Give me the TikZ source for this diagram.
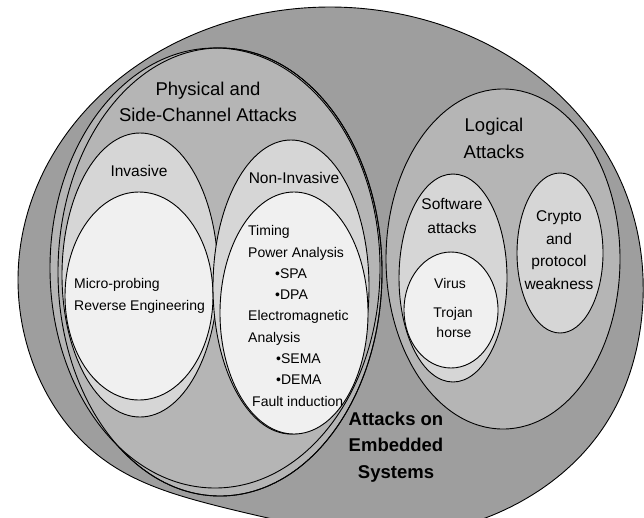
\documentclass[tikz,border=0pt]{standalone}
\usepackage{fontspec}
\setmainfont{Liberation Sans}
\begin{document}
\begin{tikzpicture}[x=1pt,y=-1pt,
  ring/.style={draw=black,line width=0.9pt},
  head/.style={inner sep=0pt,anchor=base,font=\fontsize{18.5}{26}\selectfont},
  bold/.style={inner sep=0pt,anchor=base,font=\fontsize{18.5}{26}\bfseries\selectfont},
  mid/.style={inner sep=0pt,anchor=base,font=\fontsize{15.5}{22}\selectfont},
  item/.style={inner sep=0pt,anchor=base west,font=\fontsize{14}{20}\selectfont}]
\useasboundingbox (0,0) rectangle (644,517);
\clip (0,0) rectangle (644,517);

\filldraw[ring,fill=black!38] plot[domain=0:360,samples=145,smooth]
  ({330+312*cos(\x)+12*max(0,cos(\x-318))^8},{280-273*sin(\x)-30*max(0,cos(\x-255))^8}) -- cycle;
\filldraw[ring,fill=black!29] (220,272) ellipse [x radius=162,y radius=224];
\filldraw[ring,fill=black!29] (215,268) ellipse [x radius=165,y radius=220];
\draw[ring] (220,272) ellipse [x radius=162,y radius=224];
\filldraw[ring,fill=black!29] (503,259) ellipse [x radius=117,y radius=170];

\filldraw[ring,fill=black!16] (140,275) ellipse [x radius=78,y radius=142];
\filldraw[ring,fill=black!6] (139,296) ellipse [x radius=74,y radius=104];
\filldraw[ring,fill=black!16] (291,287) ellipse [x radius=78,y radius=147];
\filldraw[ring,fill=black!6] (294,313) ellipse [x radius=74,y radius=121];

\filldraw[ring,fill=black!16] (453,278) ellipse [x radius=54,y radius=104];
\filldraw[ring,fill=black!6] (451,310) ellipse [x radius=47,y radius=58];
\filldraw[ring,fill=black!16] (560,253) ellipse [x radius=43,y radius=80];

\node (ph1) at (208,95) [head] {Physical and};
\node (ph2) at (208,121) [head] {Side-Channel Attacks};
\node (lo1) at (494,131) [head] {Logical};
\node (lo2) at (494,158) [head] {Attacks};

\node (inv) at (139,176) [mid] {Invasive};
\node (ninv) at (294,183) [mid] {Non-Invasive};
\node (mp) at (74,288) [item] {Micro-probing};
\node (re) at (74,310) [item] {Reverse Engineering};

\node (t1) at (248,235) [item] {Timing};
\node (t2) at (248,257) [item] {Power Analysis};
\node (t3) at (275,278) [item] {•SPA};
\node (t4) at (275,299) [item] {•DPA};
\node (t5) at (248,320) [item] {Electromagnetic};
\node (t6) at (248,342) [item] {Analysis};
\node (t7) at (276,363) [item] {•SEMA};
\node (t8) at (276,384) [item] {•DEMA};
\node (t9) at (252,406) [item] {Fault induction};

\node (sw1) at (452,209) [mid] {Software};
\node (sw2) at (452,233) [mid] {attacks};
\node (v1) at (450,288) [mid,font=\fontsize{14}{20}\selectfont] {Virus};
\node (v2) at (453,317) [mid,font=\fontsize{14}{20}\selectfont] {Trojan};
\node (v3) at (454,337) [mid,font=\fontsize{14}{20}\selectfont] {horse};

\node (c1) at (559,221) [mid] {Crypto};
\node (c2) at (559,244) [mid] {and};
\node (c3) at (559,266) [mid] {protocol};
\node (c4) at (559,289) [mid] {weakness};

\node (a1) at (396,425) [bold] {Attacks on};
\node (a2) at (396,451) [bold] {Embedded};
\node (a3) at (396,478) [bold] {Systems};
\end{tikzpicture}
\end{document}
